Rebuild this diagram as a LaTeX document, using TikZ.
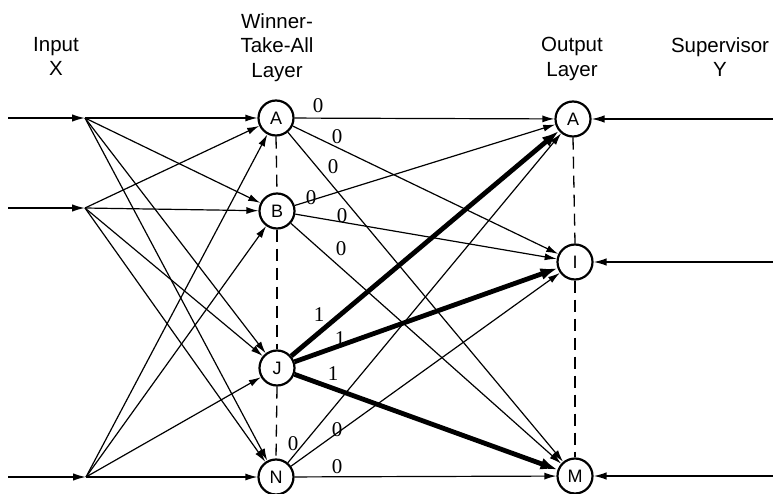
\documentclass[tikz,border=0pt]{standalone}
\usepackage{fontspec}
\setmainfont{Liberation Serif}
\setsansfont{Liberation Sans}
\usetikzlibrary{arrows.meta}
\begin{document}
\begin{tikzpicture}[x=1pt,y=-1pt,
  neuron/.style={circle,draw,line width=2.2pt,minimum size=35pt,inner sep=0pt,font=\sffamily\fontsize{18}{18}\selectfont},
  conn/.style={line width=1.2pt,-{Latex[length=12pt,width=7pt]}},
  inarrow/.style={line width=1.5pt,-{Latex[length=13pt,width=7.5pt]}},
  heavy/.style={line width=4.8pt,-{Latex[length=17pt,width=12pt]}},
  vdash/.style={line width=1.3pt,dash pattern=on 12pt off 7pt},
  wt/.style={font=\fontsize{21}{21}\selectfont,inner sep=0pt},
  lbl/.style={font=\sffamily\fontsize{20.5}{24.5}\selectfont,align=center,inner sep=0pt,anchor=north}
]
\useasboundingbox (0,0) rectangle (773,494);

% headings
\node[lbl] (hin)  at (56,37) {Input\\X};
\node[lbl] (hwta) at (277,13) {Winner-\\Take-All\\Layer};
\node[lbl] (hout) at (572,37) {Output\\Layer};
\node[lbl] (hsup) at (720,37) {Supervisor\\Y};

% WTA layer
\node[neuron] (wA) at (276,118) {A};
\node[neuron] (wB) at (277,211) {B};
\node[neuron] (wJ) at (277,368) {J};
\node[neuron] (wN) at (276,477) {N};

% output layer
\node[neuron] (oA) at (573,119) {A};
\node[neuron] (oI) at (575,262) {I};
\node[neuron] (oM) at (575,476) {M};

% input points
\coordinate (i1) at (8,118);
\coordinate (i2) at (8,208);
\coordinate (i3) at (8,477);
\coordinate (b1) at (85,118);
\coordinate (b2) at (85,208);
\coordinate (b3) at (86,477);

% supervisor points
\coordinate (s1) at (773,119);
\coordinate (s2) at (773,262);
\coordinate (s3) at (773,476);

% input arrows
\draw[inarrow] (i1) -- (b1);
\draw[inarrow] (i2) -- (b2);
\draw[inarrow] (i3) -- (b3);

% input to WTA
\foreach \b in {b1,b2,b3}{
  \foreach \w in {wA,wB,wJ,wN}{
    \draw[conn] (\b) -- (\w);
  }
}

% WTA to output
\foreach \w in {wA,wB,wN}{
  \foreach \o in {oA,oI,oM}{
    \draw[conn] (\w) -- (\o);
  }
}
\draw[heavy] (wJ) -- (oA);
\draw[heavy] (wJ) -- (oI);
\draw[heavy] (wJ) -- (oM);

% supervisor arrows
\draw[inarrow] (s1) -- (oA);
\draw[inarrow] (s2) -- (oI);
\draw[inarrow] (s3) -- (oM);

% dashed lateral lines
\draw[vdash] (wA.south) -- (wB.north);
\draw[vdash] (wB.south) -- (wJ.north);
\draw[vdash] (wJ.south) -- (wN.north);
\draw[vdash] (oA.south) -- (oI.north);
\draw[vdash] (oI.south) -- (oM.north);

% weights
\node[wt] (w1)  at (318,106) {0};
\node[wt] (w2)  at (337,137) {0};
\node[wt] (w3)  at (333,167) {0};
\node[wt] (w4)  at (311,198) {0};
\node[wt] (w5)  at (342,216) {0};
\node[wt] (w6)  at (341,249) {0};
\node[wt] (w7)  at (319,315) {1};
\node[wt] (w8)  at (340,339) {1};
\node[wt] (w9)  at (333,374) {1};
\node[wt] (w10) at (293,444) {0};
\node[wt] (w11) at (337,430) {0};
\node[wt] (w12) at (337,467) {0};
\end{tikzpicture}
\end{document}
